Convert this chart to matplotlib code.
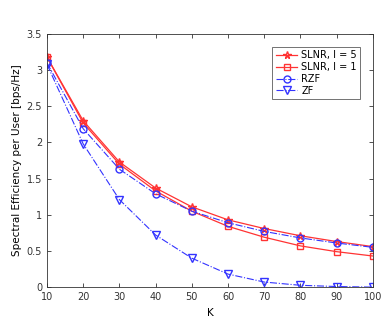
import matplotlib
matplotlib.use("Agg")
import matplotlib.pyplot as plt

K = [10, 20, 30, 40, 50, 60, 70, 80, 90, 100]
slnr5 = [3.18, 2.30, 1.73, 1.37, 1.11, 0.93, 0.81, 0.71, 0.63, 0.56]
slnr1 = [3.18, 2.27, 1.70, 1.33, 1.05, 0.84, 0.69, 0.57, 0.49, 0.43]
rzf = [3.10, 2.19, 1.63, 1.29, 1.05, 0.89, 0.77, 0.68, 0.61, 0.55]
zf = [3.08, 1.98, 1.21, 0.72, 0.40, 0.18, 0.07, 0.025, 0.008, 0.0]

fig = plt.figure(figsize=(3.9, 3.27), dpi=100)
ax = fig.add_axes([0.1205, 0.122, 0.8355, 0.774])
red = '#ff3333'
blue = '#3333ff'
ax.plot(K, slnr5, '-', color=red, marker='*', ms=5.5, mfc='none', lw=0.9, label='SLNR, I = 5')
ax.plot(K, slnr1, '-', color=red, marker='s', ms=4.5, mfc='none', lw=0.9, label='SLNR, I = 1')
ax.plot(K, rzf, '-.', color=blue, marker='o', ms=5, mfc='none', lw=0.8, label='RZF')
ax.plot(K, zf, '-.', color=blue, marker='v', ms=5.5, mfc='none', lw=0.8, label='ZF')

ax.set_xlim(10, 100)
ax.set_ylim(0, 3.5)
ax.set_xticks(K)
ax.set_yticks([0, 0.5, 1, 1.5, 2, 2.5, 3, 3.5])
ax.set_yticklabels(['0', '0.5', '1', '1.5', '2', '2.5', '3', '3.5'])
ax.tick_params(direction='in', top=True, right=True, labelsize=7, length=3, width=0.6, colors='#333333')
for s in ax.spines.values():
    s.set_linewidth(0.6)
    s.set_color('#333333')
ax.set_xlabel('K', fontsize=7.5, labelpad=4)
ax.set_ylabel('Spectral Efficiency per User [bps/Hz]', fontsize=7.5, labelpad=3)
leg = ax.legend(loc='upper right', fontsize=7, fancybox=False, edgecolor='#333333',
                handlelength=2.2, borderaxespad=1.3, labelspacing=0.2, handletextpad=0.4,
                borderpad=0.35)
leg.get_frame().set_linewidth(0.6)
fig.savefig('out.png', dpi=100)
